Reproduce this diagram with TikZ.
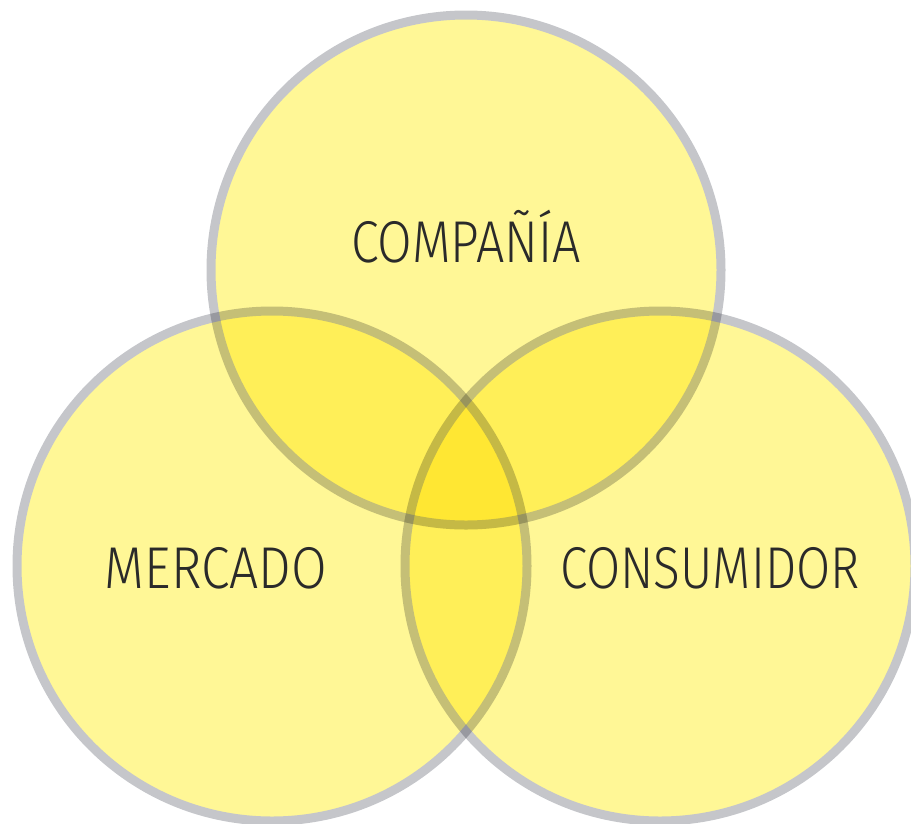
\documentclass[tikz,border=0pt]{standalone}
\usepackage{fontspec}
\IfFontExistsTF{Fira Sans Light}{\setmainfont{Fira Sans Light}}{\setmainfont{Fira Sans}}
\begin{document}
\begin{tikzpicture}[x=1pt,y=-1pt,
  venn/.style={draw=ringgray, line width=9pt, fill=vennyellow},
  lbl/.style={anchor=base, text=textdark, font=\fontsize{59}{63}\selectfont, inner sep=0pt}]
\definecolor{ringgray}{HTML}{C5C6CA}
\definecolor{vennyellow}{RGB}{255,247,150}
\definecolor{textdark}{HTML}{2A2A2A}
\useasboundingbox (0,0) rectangle (911,823);
\clip (0,0) rectangle (911,823);
\coordinate (ctop) at (466,270);
\coordinate (cleft) at (272,566);
\coordinate (cright) at (660,566);
\begin{scope}[blend mode=multiply]
  \begin{scope}[transparency group]
    \draw[venn] (ctop) circle[radius=255];
  \end{scope}
  \begin{scope}[transparency group]
    \draw[venn] (cleft) circle[radius=255];
  \end{scope}
  \begin{scope}[transparency group]
    \draw[venn] (cright) circle[radius=255];
  \end{scope}
\end{scope}
\node[lbl] (compania) at (466,262) {\scalebox{0.85}[1]{COMPAÑÍA}};
\node[lbl] (mercado) at (216,588) {\scalebox{0.875}[1]{MERCADO}};
\node[lbl] (consumidor) at (710,588) {\scalebox{0.84}[1]{CONSUMIDOR}};
\end{tikzpicture}
\end{document}
